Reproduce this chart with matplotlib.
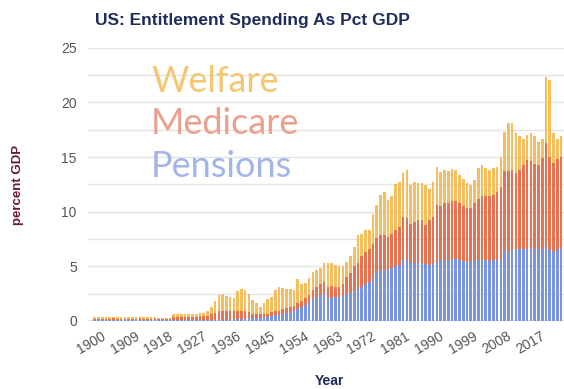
import matplotlib.pyplot as plt
from matplotlib.transforms import ScaledTranslation

years = list(range(1900, 2025))

# percent of GDP, one value per year 1900-2024
pensions = [
    0.05, 0.05, 0.05, 0.05, 0.05, 0.05, 0.05, 0.05, 0.05, 0.05,
    0.05, 0.05, 0.05, 0.05, 0.05, 0.05, 0.05, 0.05, 0.05, 0.05,
    0.05, 0.06, 0.06, 0.06, 0.06, 0.06, 0.06, 0.06, 0.08, 0.08,
    0.08, 0.08, 0.08, 0.08, 0.08, 0.08, 0.12, 0.15, 0.20, 0.20,
    0.20, 0.25, 0.25, 0.25, 0.30, 0.35, 0.40, 0.45, 0.50, 0.55,
    0.65, 0.75, 0.85, 0.95, 1.10, 1.30, 1.50, 1.70, 2.00, 2.20,
    2.4, 2.5, 2.1, 2.1, 2.2, 2.2, 2.3, 2.5, 2.6, 2.7,
    3.0, 3.1, 3.4, 3.6, 3.9, 4.5, 4.7, 4.7, 4.7, 4.8,
    5.0, 5.1, 5.6, 5.7, 5.4, 5.3, 5.3, 5.3, 5.2, 5.1,
    5.3, 5.4, 5.6, 5.6, 5.6, 5.7, 5.7, 5.6, 5.5, 5.4,
    5.4, 5.6, 5.6, 5.6, 5.6, 5.5, 5.6, 5.6, 5.7, 6.5,
    6.3, 6.5, 6.6, 6.6, 6.6, 6.6, 6.7, 6.6, 6.6, 6.6,
    6.8, 6.5, 6.3, 6.6, 6.7,
]
medicare = [
    0.17, 0.17, 0.16, 0.17, 0.17, 0.18, 0.17, 0.17, 0.17, 0.17,
    0.17, 0.17, 0.18, 0.17, 0.17, 0.17, 0.17, 0.15, 0.14, 0.14,
    0.15, 0.30, 0.30, 0.30, 0.30, 0.30, 0.30, 0.30, 0.37, 0.37,
    0.40, 0.52, 0.67, 0.87, 0.87, 0.87, 0.83, 0.80, 0.75, 0.75,
    0.75, 0.55, 0.35, 0.35, 0.30, 0.25, 0.20, 0.40, 0.40, 0.40,
    0.40, 0.40, 0.45, 0.45, 0.50, 0.55, 0.60, 0.70, 0.80, 0.90,
    1.0, 1.1, 1.0, 1.1, 0.9, 0.9, 1.1, 1.55, 1.8, 2.3,
    2.3, 2.8, 2.9, 3.0, 3.1, 3.1, 3.2, 3.2, 3.0, 3.2,
    3.3, 3.5, 3.9, 3.7, 3.5, 3.8, 3.9, 3.9, 3.6, 4.1,
    4.2, 5.2, 4.9, 5.2, 5.2, 5.3, 5.3, 5.2, 5.0, 4.9,
    4.9, 5.2, 5.6, 5.8, 5.8, 5.9, 5.9, 6.2, 6.6, 7.2,
    7.4, 7.3, 6.9, 7.2, 7.7, 8.1, 7.9, 7.8, 7.7, 8.3,
    9.5, 8.5, 8.2, 8.2, 8.3,
]
welfare = [
    0.11, 0.11, 0.11, 0.11, 0.11, 0.11, 0.11, 0.11, 0.11, 0.11,
    0.11, 0.11, 0.11, 0.11, 0.11, 0.11, 0.11, 0.06, 0.05, 0.05,
    0.08, 0.24, 0.24, 0.24, 0.24, 0.24, 0.24, 0.24, 0.25, 0.25,
    0.47, 0.70, 1.10, 1.45, 1.55, 1.35, 1.25, 1.15, 1.75, 1.95,
    1.85, 1.70, 1.30, 1.00, 0.70, 1.00, 1.40, 1.35, 1.90, 2.15,
    1.95, 1.75, 1.60, 1.40, 2.20, 1.55, 1.40, 1.50, 1.70, 1.60,
    1.4, 1.7, 2.2, 2.1, 2.0, 1.9, 1.6, 1.35, 1.5, 1.8,
    2.6, 2.1, 2.0, 1.7, 2.8, 3.0, 3.6, 3.9, 3.4, 3.4,
    4.2, 4.1, 4.0, 4.4, 3.5, 3.6, 3.4, 3.4, 3.6, 2.9,
    3.2, 3.5, 3.1, 3.0, 2.9, 2.9, 2.8, 2.6, 2.5, 2.3,
    2.1, 2.1, 2.8, 2.9, 2.6, 2.4, 2.5, 2.3, 2.7, 3.6,
    4.4, 4.3, 3.7, 3.1, 2.4, 2.3, 2.6, 2.5, 2.1, 1.8,
    6.0, 7.1, 2.7, 1.9, 1.9,
]

tick_years = [1900, 1909, 1918, 1927, 1936, 1945, 1954, 1963, 1972, 1981, 1990, 1999, 2008, 2017]

blue = '#7894e2'
red = '#e8714f'
orange = '#f6bd5e'

fig = plt.figure(figsize=(5.64, 3.89), dpi=100)
ax = fig.add_axes([0.156, 0.175, 0.844, 0.702])

base2 = [p + m for p, m in zip(pensions, medicare)]
ax.bar(years, pensions, width=0.7, color=blue, zorder=2)
ax.bar(years, medicare, width=0.7, bottom=pensions, color=red, zorder=2)
ax.bar(years, welfare, width=0.7, bottom=base2, color=orange, zorder=2)

ax.set_xlim(1898.2, 2024.8)
ax.set_ylim(0, 25)
ax.set_yticks([0, 5, 10, 15, 20, 25])
ax.set_yticks([2.5, 7.5, 12.5, 17.5, 22.5], minor=True)
ax.grid(axis='y', which='both', color='#e3e3e3', linewidth=1, zorder=0)
ax.axhline(0, color='#8a93b0', linewidth=1, zorder=3)

for s in ax.spines.values():
    s.set_visible(False)
ax.tick_params(axis='both', which='both', length=0)
ax.tick_params(axis='y', labelsize=10, labelcolor='#555555', pad=8)

ax.set_xticks(tick_years)
ax.set_xticklabels([str(y) for y in tick_years], rotation=30, ha='right',
                   rotation_mode='anchor', fontsize=10, color='#555555')
ax.tick_params(axis='x', pad=6)
offset = ScaledTranslation(6 / 100, 0, fig.dpi_scale_trans)
for lbl in ax.get_xticklabels():
    lbl.set_transform(lbl.get_transform() + offset)

for lbl in ax.get_xticklabels() + ax.get_yticklabels():
    lbl.set_family('Liberation Sans')

fig.text(0.168, 0.948, 'US: Entitlement Spending As Pct GDP', fontsize=12.5,
         fontweight='bold', color='#1f2d59', family='Liberation Sans', va='center')
fig.text(0.032, 0.525, 'percent GDP', rotation=90, fontsize=9.5, fontweight='bold',
         color='#6b1a2a', family='Liberation Sans', ha='center', va='center')
fig.text(0.585, 0.02, 'Year', fontsize=10, fontweight='bold', color='#1f2d59',
         family='Liberation Sans', ha='center', va='center')

# series names written large inside the plot
ax.text(1915, 21.0, 'Welfare', fontsize=26, color='#f5c772', family='Lato')
ax.text(1915, 17.1, 'Medicare', fontsize=26, color='#eba08e', family='Lato')
ax.text(1915, 13.2, 'Pensions', fontsize=26, color='#a3b5e8', family='Lato')

plt.savefig('out.png', dpi=100)
